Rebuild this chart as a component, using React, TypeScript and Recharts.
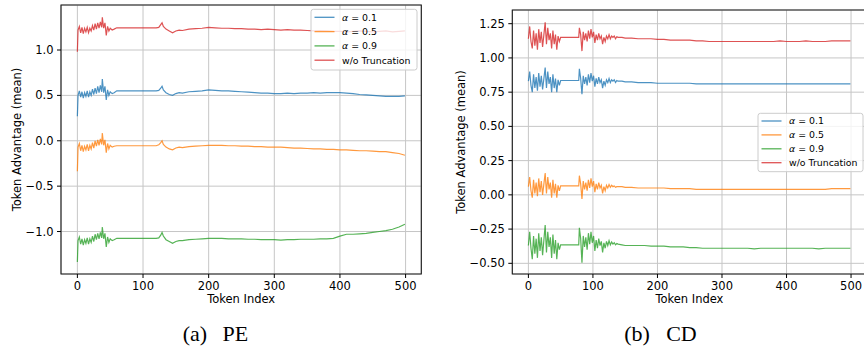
import React from "react";
import { LineChart, Line, XAxis, YAxis, CartesianGrid, ReferenceArea } from "recharts";

const FONT = "'DejaVu Sans', sans-serif";
const SERIF = "'Liberation Serif', serif";

const SERIES_NAMES = ["α = 0.1", "α = 0.5", "α = 0.9", "w/o Truncation"];
const SERIES_KEYS = ["a01", "a05", "a09", "wo"];
const SERIES_COLORS = ["#1f77b4", "#ff7f0e", "#2ca02c", "#d62728"];

const X_LABEL = "Token Index";
const Y_LABEL = "Token Advantage (mean)";
const CAPTION_TAGS = ["(a)", "(b)"];
const CAPTION_NAMES = ["PE", "CD"];

// ---------- (a) PE ----------
const PE_TOKENS = [0, 1, 3, 5, 7, 9, 11, 13, 15, 17, 19, 21, 23, 25, 27, 29, 31, 33, 35, 37, 38, 40, 42, 44, 46, 48, 50, 53, 56, 60, 70, 80, 90, 100, 110, 120, 124, 127, 129, 131, 135, 140, 145, 150, 155, 160, 170, 180, 190, 200, 210, 220, 230, 240, 250, 260, 270, 280, 290, 300, 310, 320, 330, 340, 350, 360, 370, 380, 390, 400, 410, 420, 430, 440, 450, 460, 470, 480, 490, 499];

const PE_ALPHA_01 = [0.27, 0.50, 0.55, 0.48, 0.54, 0.47, 0.53, 0.49, 0.55, 0.48, 0.54, 0.50, 0.57, 0.51, 0.58, 0.52, 0.60, 0.53, 0.61, 0.54, 0.68, 0.53, 0.60, 0.45, 0.56, 0.50, 0.54, 0.52, 0.53, 0.55,
  0.55, 0.55, 0.55, 0.55, 0.55, 0.55,
  0.555, 0.58, 0.60, 0.56, 0.53, 0.51, 0.50, 0.52, 0.53, 0.525,
  0.54, 0.545, 0.55, 0.56, 0.555, 0.55, 0.55, 0.545, 0.54, 0.535, 0.53, 0.525, 0.525, 0.52, 0.52, 0.525, 0.52, 0.525, 0.525, 0.53, 0.525, 0.53, 0.53, 0.53, 0.525, 0.52, 0.51, 0.505, 0.50, 0.495, 0.49, 0.49, 0.49,
  0.495];

const PE_ALPHA_05 = [-0.335, -0.07, -0.03, -0.11, -0.05, -0.12, -0.06, -0.10, -0.04, -0.11, -0.05, -0.09, -0.02, -0.08, 0.00, -0.06, 0.01, -0.05, 0.02, -0.04, 0.085, -0.05, 0.01, -0.13, -0.03, -0.09, -0.05, -0.07, -0.06, -0.055,
  -0.055, -0.055, -0.055, -0.055, -0.055, -0.055,
  -0.045, -0.02, 0.00, -0.04, -0.07, -0.09, -0.10, -0.08, -0.07, -0.075,
  -0.065, -0.06, -0.055, -0.05, -0.05, -0.05, -0.055, -0.055, -0.06, -0.06, -0.065, -0.065, -0.07, -0.07, -0.07, -0.075, -0.08, -0.08, -0.085, -0.09, -0.09, -0.095, -0.095, -0.10, -0.10, -0.105, -0.11, -0.11, -0.115, -0.12, -0.12, -0.13, -0.14,
  -0.16];

const PE_ALPHA_09 = [-1.335, -1.10, -1.06, -1.14, -1.08, -1.15, -1.09, -1.13, -1.07, -1.14, -1.08, -1.12, -1.05, -1.11, -1.03, -1.09, -1.02, -1.08, -1.01, -1.07, -0.95, -1.08, -1.02, -1.17, -1.06, -1.12, -1.08, -1.10, -1.09, -1.075,
  -1.075, -1.075, -1.075, -1.075, -1.075, -1.075,
  -1.07, -1.04, -1.01, -1.05, -1.09, -1.11, -1.13, -1.11, -1.10, -1.10,
  -1.09, -1.085, -1.08, -1.075, -1.075, -1.075, -1.08, -1.08, -1.08, -1.085, -1.085, -1.09, -1.09, -1.09, -1.095, -1.09, -1.09, -1.085, -1.085, -1.085, -1.08, -1.08, -1.075, -1.05, -1.03, -1.03, -1.025, -1.02, -1.01, -1.00, -0.99, -0.975, -0.95,
  -0.92];

const PE_NO_TRUNC = [0.98, 1.22, 1.26, 1.19, 1.25, 1.18, 1.24, 1.20, 1.25, 1.19, 1.24, 1.21, 1.27, 1.22, 1.29, 1.23, 1.30, 1.24, 1.31, 1.25, 1.36, 1.24, 1.30, 1.16, 1.26, 1.21, 1.24, 1.22, 1.23, 1.245,
  1.245, 1.245, 1.245, 1.245, 1.245, 1.245,
  1.25, 1.28, 1.30, 1.26, 1.23, 1.21, 1.19, 1.21, 1.22, 1.215,
  1.23, 1.235, 1.24, 1.25, 1.245, 1.24, 1.24, 1.235, 1.235, 1.23, 1.23, 1.225, 1.23, 1.225, 1.22, 1.225, 1.22, 1.22, 1.215, 1.21, 1.215, 1.21, 1.205, 1.205, 1.20, 1.205, 1.21, 1.205, 1.20, 1.205, 1.21, 1.20, 1.205,
  1.21];

const PE_X_TICKS = [0, 100, 200, 300, 400, 500];
const PE_Y_TICKS = [-1.0, -0.5, 0.0, 0.5, 1.0];

// ---------- (b) CD ----------
const CD_TOKENS = [0, 2, 4, 6, 8, 10, 12, 14, 16, 18, 20, 22, 24, 26, 28, 30, 32, 34, 36, 38, 40, 42, 44, 46, 48, 50,
  52, 60, 70, 78,
  79, 81, 83, 85, 87, 89, 91, 93, 95, 97, 99, 101, 103, 105, 107, 109, 111, 113, 115, 117, 119, 121, 123, 125, 127, 129, 131, 133, 135, 137, 139,
  145, 150,
  160, 170, 180, 190, 200, 210, 220, 230, 240, 250, 260, 270, 280, 290, 300, 310, 320, 330, 340, 350, 360, 370, 380, 390, 400, 410, 420, 430, 440, 450, 460, 470, 480, 490,
  499];

const CD_ALPHA_01 = [0.83, 0.90, 0.80, 0.75, 0.88, 0.78, 0.86, 0.76, 0.89, 0.79, 0.87, 0.77, 0.85, 0.93, 0.78, 0.90, 0.81, 0.86, 0.75, 0.88, 0.78, 0.85, 0.75, 0.84, 0.80, 0.835,
  0.835, 0.835, 0.835, 0.835,
  0.92, 0.85, 0.735, 0.87, 0.81, 0.86, 0.80, 0.88, 0.82, 0.89, 0.83, 0.87, 0.79, 0.85, 0.81, 0.86, 0.82, 0.84, 0.78, 0.83, 0.80, 0.84, 0.82, 0.85, 0.82, 0.84, 0.83, 0.84, 0.82, 0.835, 0.83,
  0.83, 0.825,
  0.825, 0.82, 0.82, 0.82, 0.815, 0.815, 0.815, 0.815, 0.815, 0.815, 0.81, 0.81, 0.81, 0.81, 0.81, 0.81, 0.81, 0.81, 0.81, 0.81, 0.81, 0.81, 0.81, 0.81, 0.81, 0.81, 0.81, 0.81, 0.81, 0.81, 0.81, 0.81, 0.81, 0.81,
  0.81];

const CD_ALPHA_05 = [0.06, 0.13, 0.03, -0.02, 0.11, 0.01, 0.09, -0.01, 0.12, 0.02, 0.10, 0.00, 0.08, 0.16, 0.01, 0.13, 0.04, 0.09, -0.02, 0.11, 0.01, 0.08, -0.02, 0.07, 0.03, 0.065,
  0.065, 0.065, 0.065, 0.065,
  0.14, 0.08, -0.03, 0.10, 0.04, 0.09, 0.03, 0.11, 0.05, 0.12, 0.06, 0.10, 0.02, 0.08, 0.04, 0.09, 0.05, 0.07, 0.01, 0.06, 0.03, 0.07, 0.05, 0.075, 0.055, 0.07, 0.06, 0.065, 0.055, 0.06, 0.06,
  0.06, 0.055,
  0.055, 0.05, 0.05, 0.05, 0.05, 0.05, 0.045, 0.045, 0.045, 0.045, 0.04, 0.04, 0.04, 0.04, 0.04, 0.04, 0.04, 0.04, 0.04, 0.04, 0.04, 0.04, 0.04, 0.04, 0.04, 0.04, 0.04, 0.04, 0.04, 0.04, 0.04, 0.045, 0.045, 0.045,
  0.045];

const CD_ALPHA_09 = [-0.37, -0.27, -0.39, -0.47, -0.30, -0.43, -0.32, -0.46, -0.28, -0.41, -0.31, -0.44, -0.33, -0.22, -0.42, -0.27, -0.38, -0.31, -0.46, -0.29, -0.43, -0.33, -0.47, -0.35, -0.40, -0.365,
  -0.365, -0.365, -0.365, -0.365,
  -0.24, -0.32, -0.495, -0.30, -0.38, -0.31, -0.40, -0.28, -0.36, -0.27, -0.35, -0.30, -0.41, -0.33, -0.39, -0.32, -0.37, -0.34, -0.42, -0.35, -0.39, -0.34, -0.37, -0.335, -0.365, -0.345, -0.36, -0.35, -0.365, -0.355, -0.36,
  -0.365, -0.37,
  -0.37, -0.37, -0.37, -0.375, -0.375, -0.375, -0.38, -0.38, -0.38, -0.385, -0.385, -0.39, -0.39, -0.39, -0.39, -0.39, -0.39, -0.39, -0.39, -0.395, -0.39, -0.39, -0.39, -0.39, -0.39, -0.39, -0.39, -0.39, -0.39, -0.395, -0.39, -0.39, -0.39, -0.39,
  -0.39];

const CD_NO_TRUNC = [1.14, 1.23, 1.12, 1.07, 1.20, 1.09, 1.18, 1.06, 1.21, 1.11, 1.19, 1.08, 1.17, 1.26, 1.10, 1.22, 1.13, 1.18, 1.07, 1.20, 1.10, 1.17, 1.06, 1.16, 1.12, 1.15,
  1.15, 1.15, 1.15, 1.15,
  1.22, 1.17, 1.05, 1.19, 1.13, 1.18, 1.12, 1.20, 1.14, 1.21, 1.15, 1.19, 1.11, 1.17, 1.13, 1.18, 1.14, 1.16, 1.10, 1.15, 1.12, 1.16, 1.14, 1.17, 1.14, 1.16, 1.15, 1.16, 1.14, 1.155, 1.15,
  1.15, 1.145,
  1.145, 1.14, 1.14, 1.14, 1.135, 1.135, 1.13, 1.13, 1.13, 1.13, 1.125, 1.125, 1.12, 1.12, 1.12, 1.12, 1.12, 1.12, 1.12, 1.12, 1.12, 1.12, 1.12, 1.125, 1.12, 1.12, 1.12, 1.125, 1.12, 1.12, 1.12, 1.125, 1.125, 1.125,
  1.125];

const CD_X_TICKS = [0, 100, 200, 300, 400, 500];
const CD_Y_TICKS = [-0.5, -0.25, 0.0, 0.25, 0.5, 0.75, 1.0, 1.25];

function buildRows(tokens: number[], series: number[][]) {
  return tokens.map((t, i) => {
    const row: any = { t };
    SERIES_KEYS.forEach((k, j) => {
      row[k] = series[j][i];
    });
    return row;
  });
}

const PE_ROWS = buildRows(PE_TOKENS, [PE_ALPHA_01, PE_ALPHA_05, PE_ALPHA_09, PE_NO_TRUNC]);
const CD_ROWS = buildRows(CD_TOKENS, [CD_ALPHA_01, CD_ALPHA_05, CD_ALPHA_09, CD_NO_TRUNC]);

const fmt = (d: number) => (v: number) => v.toFixed(d).replace("-", "\u2212");

const TICK_STYLE = { fontFamily: FONT, fontSize: 11.5, fill: "#000" };

type PanelProps = {
  rows: any[];
  left: number;
  width: number;
  height: number;
  margin: { top: number; right: number; bottom: number; left: number };
  yAxisWidth: number;
  xDomain: [number, number];
  yDomain: [number, number];
  xTicks: number[];
  yTicks: number[];
  decimals: number;
  yLabelOffset: number;
};

function Panel(p: PanelProps) {
  const yLabel = (props: any) => {
    const vb = props.viewBox;
    const cx = vb.x + p.yLabelOffset;
    const cy = vb.y + vb.height / 2;
    return (
      <text x={cx} y={cy} transform={`rotate(-90 ${cx} ${cy})`} textAnchor="middle" dominantBaseline="central" fontFamily={FONT} fontSize={11.5} fill="#000">
        {Y_LABEL}
      </text>
    );
  };
  const xLabel = (props: any) => {
    const vb = props.viewBox;
    return (
      <text x={vb.x + vb.width / 2} y={vb.y + 29.3} textAnchor="middle" fontFamily={FONT} fontSize={11.5} fill="#000">
        {X_LABEL}
      </text>
    );
  };
  return (
    <div style={{ position: "absolute", left: p.left, top: 0 }}>
      <LineChart width={p.width} height={p.height} data={p.rows} margin={p.margin}>
        <CartesianGrid stroke="#c6c6c6" strokeWidth={1} />
        <XAxis
          dataKey="t"
          type="number"
          domain={p.xDomain}
          ticks={p.xTicks}
          allowDataOverflow
          height={40}
          tickSize={4}
          tickMargin={4}
          axisLine={false}
          tickLine={{ stroke: "#000", strokeWidth: 1 }}
          tick={TICK_STYLE}
          interval={0}
          label={xLabel}
        />
        <YAxis
          type="number"
          domain={p.yDomain}
          ticks={p.yTicks}
          allowDataOverflow
          width={p.yAxisWidth}
          tickSize={4}
          tickMargin={3.5}
          axisLine={false}
          tickLine={{ stroke: "#000", strokeWidth: 1 }}
          tick={TICK_STYLE}
          tickFormatter={fmt(p.decimals)}
          interval={0}
          label={yLabel}
        />
        {SERIES_KEYS.map((k, i) => (
          <Line
            key={k}
            type="linear"
            dataKey={k}
            stroke={SERIES_COLORS[i]}
            strokeOpacity={0.8}
            strokeWidth={1.2}
            dot={false}
            activeDot={false}
            isAnimationActive={false}
          />
        ))}
        <ReferenceArea
          x1={p.xDomain[0]}
          x2={p.xDomain[1]}
          y1={p.yDomain[0]}
          y2={p.yDomain[1]}
          fill="none"
          fillOpacity={0}
          stroke="#1a1a1a"
          strokeWidth={1.1}
          ifOverflow="visible"
        />
      </LineChart>
    </div>
  );
}

function LegendBox({ x, y, w, h, first, gap }: { x: number; y: number; w: number; h: number; first: number; gap: number }) {
  return (
    <g>
      <rect x={x} y={y} width={w} height={h} rx={2.5} ry={2.5} fill="#ffffff" fillOpacity={0.8} stroke="#cccccc" strokeWidth={1} />
      {SERIES_NAMES.map((name, i) => {
        const cy = y + first + i * gap;
        const isAlpha = name.startsWith("α");
        return (
          <g key={name}>
            <line x1={x + 3.5} x2={x + 23.5} y1={cy} y2={cy} stroke={SERIES_COLORS[i]} strokeOpacity={0.8} strokeWidth={1.3} />
            <text x={x + 31} y={cy + 3.3} fontFamily={FONT} fontSize={9.4} fill="#000">
              {isAlpha ? (
                <>
                  <tspan fontStyle="italic">α</tspan>
                  <tspan>{name.slice(1)}</tspan>
                </>
              ) : (
                name
              )}
            </text>
          </g>
        );
      })}
    </g>
  );
}

function Caption({ start, end, idx }: { start: number; end: number; idx: number }) {
  return (
    <g fontFamily={SERIF} fontSize={22} fill="#000">
      <text x={start} y={341}>{CAPTION_TAGS[idx]}</text>
      <text x={end} y={341} textAnchor="end">{CAPTION_NAMES[idx]}</text>
    </g>
  );
}

export default function App() {
  return (
    <div style={{ position: "fixed", left: 0, top: 0, width: 864, height: 354, overflow: "hidden", background: "#fff" }}>
      <Panel
        rows={PE_ROWS}
        left={0}
        width={440}
        height={314}
        margin={{ top: 5, right: 18.7, bottom: 0, left: 0 }}
        yAxisWidth={61}
        xDomain={[-24.95, 523.95]}
        yDomain={[-1.468, 1.496]}
        xTicks={PE_X_TICKS}
        yTicks={PE_Y_TICKS}
        decimals={1}
        yLabelOffset={16.7}
      />
      <Panel
        rows={CD_ROWS}
        left={440}
        width={440}
        height={314}
        margin={{ top: 10, right: 13.5, bottom: 0, left: 0 }}
        yAxisWidth={72.3}
        xDomain={[-24.95, 523.95]}
        yDomain={[-0.578, 1.35]}
        xTicks={CD_X_TICKS}
        yTicks={CD_Y_TICKS}
        decimals={2}
        yLabelOffset={21}
      />
      <svg width={864} height={354} style={{ position: "absolute", left: 0, top: 0, pointerEvents: "none" }}>
        <LegendBox x={311} y={9.3} w={106} h={60.7} first={8} gap={14.3} />
        <LegendBox x={758} y={113.3} w={105} h={58.4} first={7.7} gap={13.9} />
        <Caption start={182.7} end={248.3} idx={0} />
        <Caption start={624.3} end={696.7} idx={1} />
      </svg>
    </div>
  );
}
